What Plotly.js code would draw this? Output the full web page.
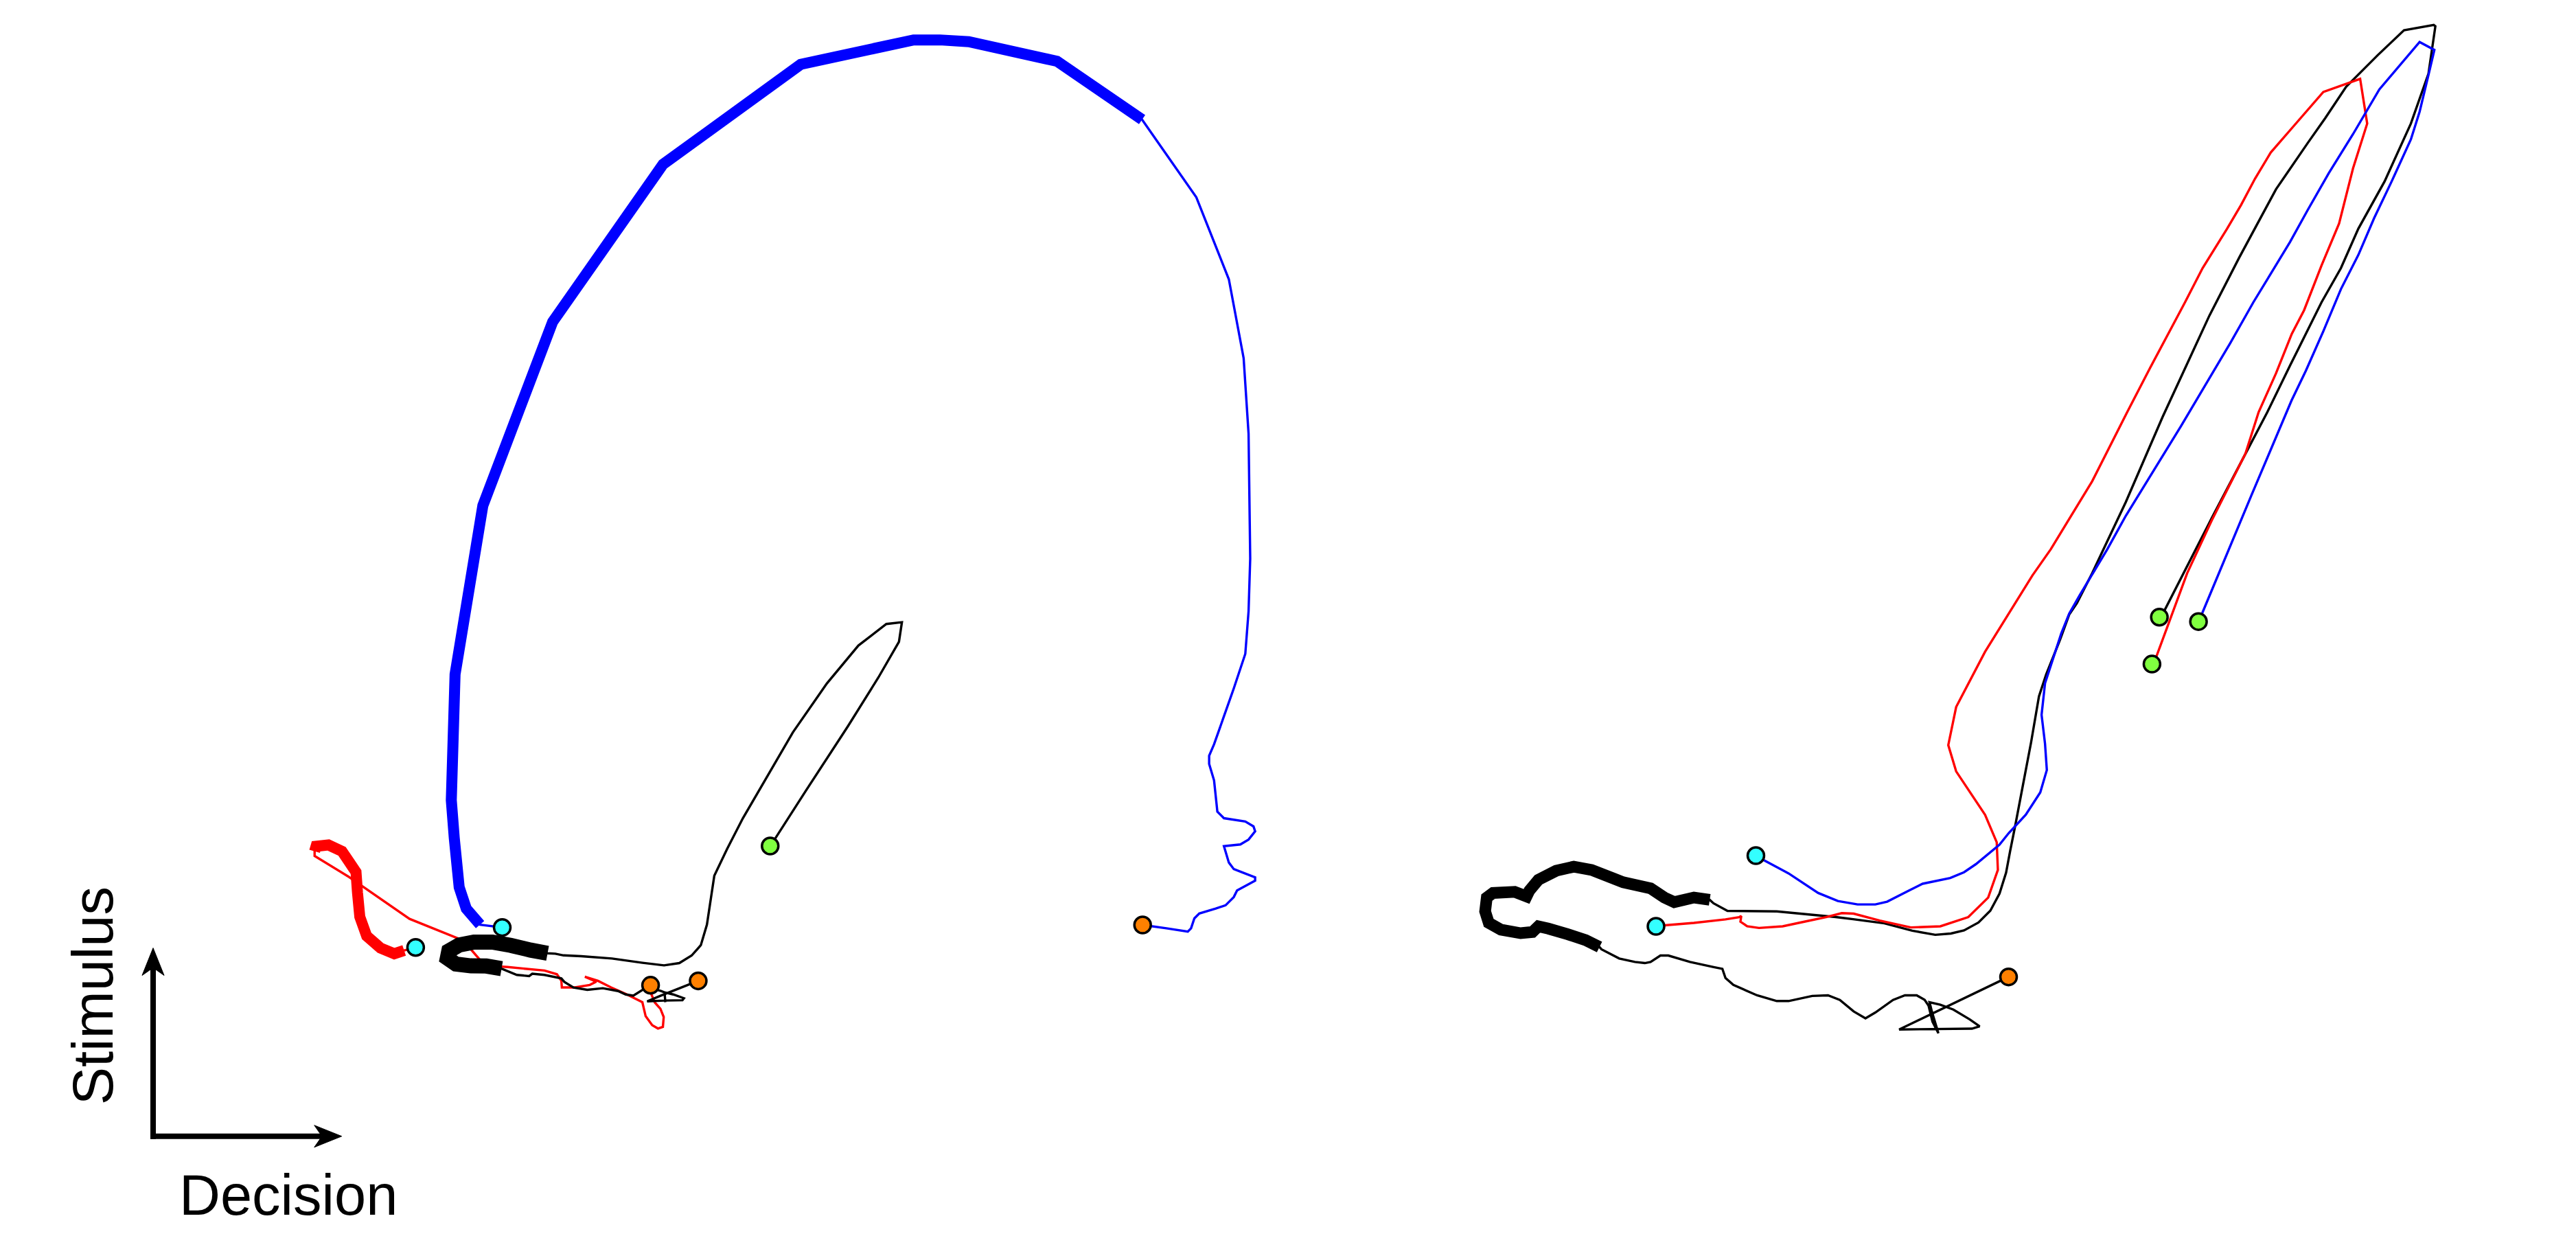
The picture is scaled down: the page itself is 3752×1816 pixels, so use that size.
<!DOCTYPE html>
<html><head><meta charset="utf-8">
<script src="https://cdn.plot.ly/plotly-3.0.1.min.js"></script>
<style>html,body{margin:0;padding:0;background:#fff;overflow:hidden}#chart{width:3752px;height:1816px}</style>
</head><body><div id="chart"></div>
<script>
// ---- Data (in picture units 1568 x 759) ----
// Left panel, blue trajectory
const leftBluePre  = [[305.7,564.5],[292.2,562.8]];
const leftBlueBold = [[292.2,562.8],[283.8,553],[279.5,540],[276.5,510],[274.7,487],[277,410.4],[293.9,307.8],[336.4,195.9],[403.6,100],[487.4,39.2],[556.1,24.3],[572.1,24.3],[589.7,25.4],[643.4,37.3],[695.2,72.8]];
const leftBluePost = [[695.2,72.8],[728.2,120.1],[748,170],[757,218],[760,264],[761,340],[760,372],[758,398],[751,419],[739,453],[736,460],[736,465],[739,475],[741,494],[745,498],[758,500],[763,503],[764,506],[760,511],[755,514],[745,515],[748,525],[751,529],[764,534],[764,536],[753,542],[751,546],[746,551],[740,553],[730,556],[727,559],[725,565],[723,567],[710,565],[695.5,563]];
// Left panel, red trajectory
const leftRedPre  = [[253,576.7],[246,578.5]];
const leftRedBold = [[246,578.5],[240,580.5],[231.6,577],[223.2,569.7],[219,558],[217.6,543.3],[216.7,530.8],[212,523.8],[208.2,518.2],[199.9,514.3],[192.4,515.1],[191.5,518.2]];
const leftRedPost = [[191.5,518.2],[191.5,521],[212,533.5],[249.3,559.3],[282,572.5],[292,584],[300,588],[309,588.6],[331.4,590.7],[339,593],[341.7,597],[342,601],[350,601],[359,599.5],[363,597.5],[356,594.5],[364,597],[372,601],[381,605],[391,610],[393,618.5],[397,624],[400.5,626],[403.5,625],[404,619],[402,614],[398.6,610.2],[396,604],[396,599.7]];
// Left panel, black trajectory
const leftBlackPre  = [[468.8,514.9],[471.4,511.1],[490.5,481.3],[516.1,442.1],[534.7,412.3],[547.2,390.6],[549,378.7],[539.5,379.8],[522.5,392.9],[503.3,416],[482.6,445.8],[452.2,498],[442.6,516.7],[434.8,533],[430.3,562.8],[426.6,575.3],[421,581.6],[413.5,586.2],[404.2,587.6],[391.1,586],[372.5,583.4],[353.8,582],[343,581.5],[338,580.5],[333.3,580.2]];
const leftBlackBold = [[333.3,580.2],[323,578.3],[310.9,575.4],[299.7,573.4],[288.5,573.4],[279.5,575.2],[273.2,578.8],[272.3,583.2],[277.5,586.8],[286.6,587.9],[296,588],[305.3,589.6]];
const leftBlackPost = [[305.3,589.6],[314.6,593.4],[322.1,594.1],[324,592.7],[331.4,593.4],[341.7,595.5],[343.5,597.6],[349.1,601.1],[357.5,602.5],[366.9,601.5],[376.2,603.2],[380.9,605.3],[385.5,606],[391.1,602.5],[394.8,601.1],[402.3,603.2],[404.5,604],[405,610],[404.5,604],[409.8,605.3],[416.3,607.6],[415.4,608.8],[404.2,609],[393.9,609.5],[402.3,606],[425,597]];
// Right panel, black trajectory
const rightBlackPre  = [[1314.4,375.6],[1317.3,372],[1346.3,315.3],[1380.1,250.9],[1394,222.4],[1413.1,184],[1424.9,163.2],[1435.5,139.2],[1451.5,110.4],[1467.5,75.2],[1478.2,44.8],[1482.4,16],[1481.4,15.2],[1463.3,18.4],[1447.3,33.6],[1428.1,52.8],[1415.3,72],[1404.6,87.2],[1385.4,115.2],[1371.6,140.8],[1363,156.8],[1344.9,192],[1316.4,253.7],[1294,305.5],[1273.5,348.9],[1264.2,367.1],[1259.5,374.1],[1253.9,389.5],[1245.5,410.5],[1241.1,423.9],[1236.3,451.9],[1233.1,468.7],[1226.7,502.3],[1223.5,518.3],[1221.1,531.1],[1217.1,543.9],[1211.5,554.3],[1204.3,561.5],[1195.5,566.3],[1187.5,568.2],[1178,569],[1164,566.5],[1147,562],[1128,559.5],[1117.5,558.2],[1081.5,554.7],[1051.5,554.4],[1043,549.8],[1040.7,547.7]];
const rightBlackBold = [[1040.7,547.7],[1031.1,546.3],[1019.1,549.1],[1013.1,546.3],[1004.7,540.7],[988,537],[968.8,529.5],[958,527.5],[947.2,530],[936.4,535.5],[930.9,542.1],[929.2,545.6],[922,542.8],[908.8,543.5],[905,546.3],[904,554.7],[906.2,561.7],[913.6,565.9],[925.6,568],[932.8,567.3],[936.4,563.8],[942.4,565.2],[954.4,568.7],[965.2,572.2],[973.6,576.4]];
const rightBlackPost = [[973.6,576.4],[974.8,577.8],[985.6,583.4],[995.2,585.5],[1001.2,586.2],[1004.7,585.5],[1010.7,581.6],[1015.5,581.6],[1028.7,585.5],[1043.1,588.6],[1048.4,589.7],[1050.3,595.3],[1055.1,599.5],[1069.5,605.8],[1081.5,609.3],[1088.7,609.3],[1103.1,606.2],[1112.7,605.8],[1119.9,608.6],[1128.3,615.6],[1135.5,619.8],[1141.5,616.3],[1152.3,608.6],[1159.5,605.8],[1166.7,605.8],[1171.5,608.6],[1173.9,612.1],[1176.3,621.9],[1179.9,628.9],[1176,616],[1174.5,610],[1181,611.5],[1189,614.5],[1199,620.5],[1205,624.7],[1200.3,626.1],[1156,626.6],[1222.6,594.6]];
// Right panel, red trajectory
const rightRed = [[1008,563.8],[1014.6,563.1],[1031.1,561.7],[1050.3,559.6],[1058.7,558.2],[1059.9,557.5],[1059.4,561],[1063.5,563.8],[1070.7,564.8],[1085.1,563.8],[1098.3,561],[1111.5,558.2],[1121.1,555.8],[1128.3,556.1],[1144.2,560.3],[1163.1,564.5],[1181.1,563.8],[1198.1,558.2],[1210.2,546.3],[1216.1,529.5],[1215.4,512.7],[1208.3,495.9],[1190.7,469.5],[1185.9,453.5],[1190.7,430.3],[1208.3,396.7],[1237.1,350.3],[1248.3,334.3],[1273.5,292.9],[1294.8,250.9],[1308.7,224],[1321.5,200],[1330,184],[1340.7,163.2],[1355.6,139.2],[1364.1,124.8],[1372.6,108.8],[1382.2,92.8],[1396.1,76.8],[1414.2,56],[1436.6,48],[1440.9,75.2],[1432.3,102.4],[1423.8,136],[1413.1,161.6],[1402.5,188.8],[1395,203.2],[1385.4,227.2],[1374.8,250.9],[1366.8,276.1],[1346.3,316.7],[1331.3,348.9],[1312.7,399.3],[1309.9,404.2]];
// Right panel, blue trajectory
const rightBlue = [[1068.8,520.8],[1074.3,523.9],[1088.7,531.6],[1106.7,543.5],[1118.7,548.4],[1130.7,550.5],[1141.5,550.5],[1148.7,548.8],[1161.9,542.1],[1170.3,537.9],[1187.1,534.4],[1195.5,530.9],[1202.7,526],[1217.1,514.1],[1222.7,507.1],[1233.1,495.9],[1241.9,482.3],[1245.9,468.7],[1244.8,452.7],[1242.7,435.1],[1244.8,415.9],[1254.7,385.5],[1259.5,373.5],[1265.9,362.3],[1282.7,334.3],[1294,313.9],[1327.6,259.3],[1357.5,208.9],[1371.6,184],[1394,147.2],[1404.6,128],[1417.4,105.6],[1432.3,81.6],[1448.3,54.4],[1472.8,25.6],[1481.8,30.4],[1478.2,45.6],[1472.8,68],[1467.5,84.8],[1455.8,110.4],[1445.1,132.8],[1435.5,155.2],[1424.9,176],[1414.2,201.6],[1403.6,225.6],[1394.8,243.9],[1370.5,301.3],[1340.7,372.7],[1338.2,378.3]];
// Direction key
const keyOrigin = [93.2, 691.6];
const keyStimulusTip = [93.2, 577];
const keyDecisionTip = [208, 691.6];
const keyLabels = ['Stimulus', 'Decision'];

// ---- Styles ----
const CYAN = '#33ffff', ORANGE = '#ff8000', GREEN = '#80ff40';
const THIN = 3.4;

const trajectories = [
  {parts:[leftBluePre, leftBlueBold, leftBluePost], color:'#0000ff', bold:16, start:CYAN, end:ORANGE},
  {parts:[leftRedPre, leftRedBold, leftRedPost], color:'#ff0000', bold:16, start:CYAN, end:ORANGE},
  {parts:[leftBlackPre, leftBlackBold, leftBlackPost], color:'#000000', bold:22, start:GREEN, end:ORANGE},
  {parts:[rightBlackPre, rightBlackBold, rightBlackPost], color:'#000000', bold:17, start:GREEN, end:ORANGE},
  {parts:[rightRed], color:'#ff0000', start:CYAN, end:GREEN},
  {parts:[rightBlue], color:'#0000ff', start:CYAN, end:GREEN}
];

const xs = a => a.map(p => p[0]);
const ys = a => a.map(p => p[1]);

const thinTraces = [], boldTraces = [];
const mk = {};
trajectories.forEach(t => {
  const full = [].concat(...t.parts);
  thinTraces.push({type:'scatter', mode:'lines', x:xs(full), y:ys(full),
    line:{color:t.color, width:THIN, simplify:false}, hoverinfo:'skip'});
  if (t.parts.length === 3) {
    const b = t.parts[1];
    boldTraces.push({type:'scatter', mode:'lines', x:xs(b), y:ys(b),
      line:{color:t.color, width:t.bold, simplify:false}, hoverinfo:'skip'});
  }
  const s = full[0], e = full[full.length-1];
  (mk[t.start] = mk[t.start] || []).push(s);
  (mk[t.end] = mk[t.end] || []).push(e);
});
const markerTraces = Object.keys(mk).map(c => ({
  type:'scatter', mode:'markers', x:xs(mk[c]), y:ys(mk[c]),
  marker:{color:c, size:24, line:{color:'#000', width:3.5}}, hoverinfo:'skip'
}));

// ---- Direction key shapes ----
const LW = 8, HL = 16.7, HW = 13.4, NOTCH = 0.72;
function arrowShapes(o, t) {
  const dx = t[0]-o[0], dy = t[1]-o[1], len = Math.hypot(dx, dy);
  const ux = dx/len, uy = dy/len, px = -uy, py = ux;
  const ext = LW/2/2.393;
  const lineStart = [o[0]-ux*ext, o[1]-uy*ext];
  const lineEnd = [t[0]-ux*HL*NOTCH, t[1]-uy*HL*NOTCH];
  const b1 = [t[0]-ux*HL+px*HW/2, t[1]-uy*HL+py*HW/2];
  const b2 = [t[0]-ux*HL-px*HW/2, t[1]-uy*HL-py*HW/2];
  const n = [t[0]-ux*HL*NOTCH, t[1]-uy*HL*NOTCH];
  return [
    {type:'line', xref:'x', yref:'y', x0:lineStart[0], y0:lineStart[1], x1:lineEnd[0], y1:lineEnd[1],
     line:{color:'#000', width:LW}},
    {type:'path', xref:'x', yref:'y',
     path:`M${t[0]},${t[1]} L${b1[0]},${b1[1]} L${n[0]},${n[1]} L${b2[0]},${b2[1]} Z`,
     fillcolor:'#000', line:{color:'#000', width:1}}
  ];
}
const shapes = [].concat(arrowShapes(keyOrigin, keyStimulusTip), arrowShapes(keyOrigin, keyDecisionTip));

const FONT = {family:'"Liberation Sans", Arial, sans-serif', size:83, color:'#000'};
const annotations = [
  {x:57, y:606, xref:'x', yref:'y', text:keyLabels[0], textangle:-90, showarrow:false,
   xanchor:'center', yanchor:'middle', font:FONT},
  {x:175.5, y:727.5, xref:'x', yref:'y', text:keyLabels[1], showarrow:false,
   xanchor:'center', yanchor:'middle', font:FONT}
];

const layout = {
  width:3752, height:1816, margin:{l:0, r:0, t:0, b:0, pad:0},
  paper_bgcolor:'#fff', plot_bgcolor:'#fff', showlegend:false,
  xaxis:{range:[0,1568], visible:false, showgrid:false, zeroline:false, fixedrange:true},
  yaxis:{range:[759,0], visible:false, showgrid:false, zeroline:false, fixedrange:true},
  shapes:shapes, annotations:annotations
};
Plotly.newPlot('chart', thinTraces.concat(boldTraces, markerTraces), layout,
  {staticPlot:true, displayModeBar:false});
</script>
</body></html>
